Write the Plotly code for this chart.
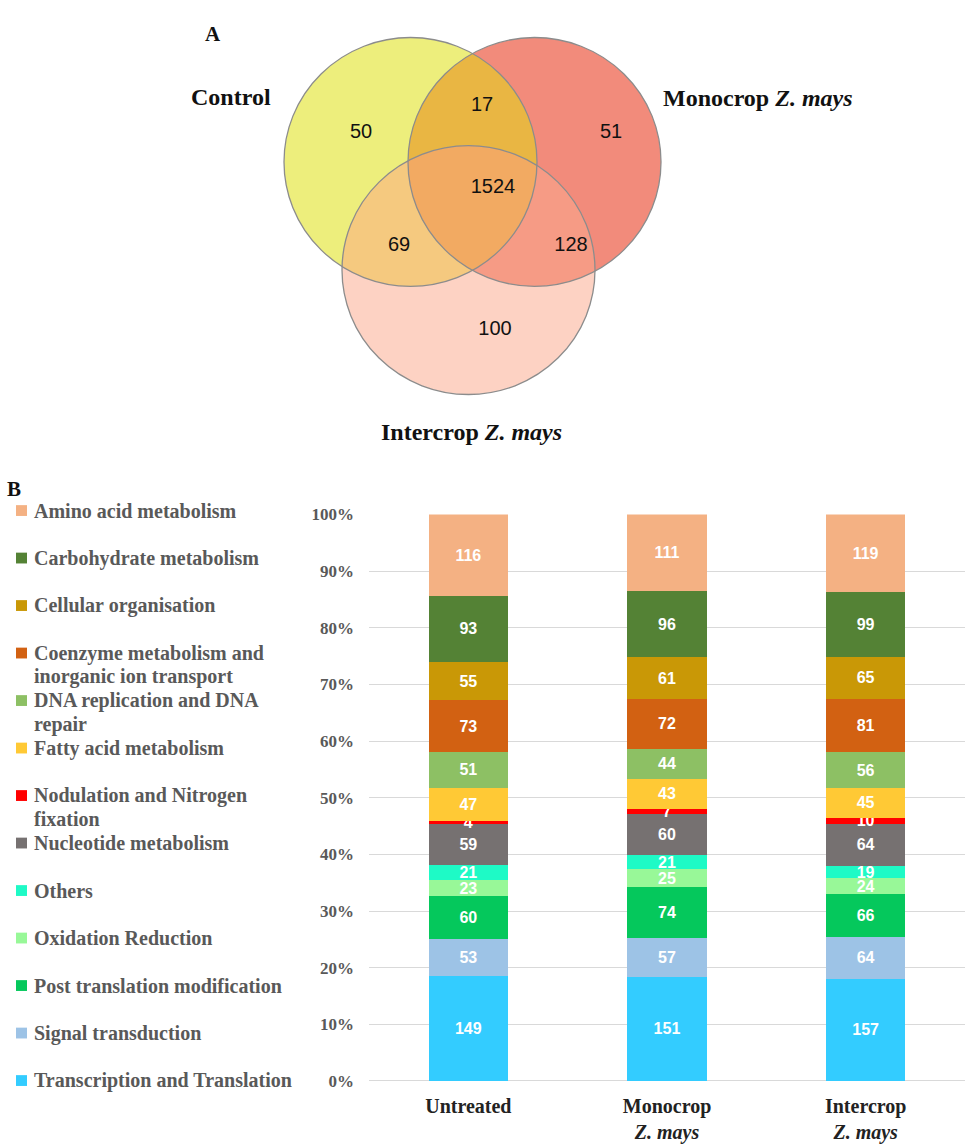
import numpy as np
import plotly.graph_objects as go

# ---------------- DATA ----------------
groups = ["Untreated", "Monocrop Z. mays", "Intercrop Z. mays"]
group_ticktext = ["Untreated", "Monocrop<br><i>Z. mays</i>", "Intercrop<br><i>Z. mays</i>"]

categories = [
    "Amino acid metabolism",
    "Carbohydrate metabolism",
    "Cellular organisation",
    "Coenzyme metabolism and inorganic ion transport",
    "DNA replication and DNA repair",
    "Fatty acid metabolism",
    "Nodulation and Nitrogen fixation",
    "Nucleotide metabolism",
    "Others",
    "Oxidation Reduction",
    "Post translation modification",
    "Signal transduction",
    "Transcription and Translation",
]
legend_lines = [
    ["Amino acid metabolism"],
    ["Carbohydrate metabolism"],
    ["Cellular organisation"],
    ["Coenzyme metabolism and", "inorganic ion transport"],
    ["DNA replication and DNA", "repair"],
    ["Fatty acid metabolism"],
    ["Nodulation and Nitrogen", "fixation"],
    ["Nucleotide metabolism"],
    ["Others"],
    ["Oxidation Reduction"],
    ["Post translation modification"],
    ["Signal transduction"],
    ["Transcription and Translation"],
]
untreated = [116, 93, 55, 73, 51, 47, 4, 59, 21, 23, 60, 53, 149]
monocrop = [111, 96, 61, 72, 44, 43, 7, 60, 21, 25, 74, 57, 151]
intercrop = [119, 99, 65, 81, 56, 45, 10, 64, 19, 24, 66, 64, 157]

colors = ["#F4B183", "#548235", "#C99806", "#D26112", "#8DC064", "#FFC935",
          "#FF0000", "#767171", "#1EFAC6", "#98F898", "#05C85C", "#9DC3E6", "#33CCFF"]
y_ticks = list(range(0, 101, 10))

venn_sets = ["Control", "Monocrop Z. mays", "Intercrop Z. mays"]
venn_regions = ["Control only", "Monocrop only", "Intercrop only",
                "Control & Monocrop", "Control & Intercrop", "Monocrop & Intercrop", "All three"]
venn_counts = [50, 51, 100, 17, 69, 128, 1524]

# ---------------- LAYOUT GEOMETRY (pixels) ----------------
W, H = 965, 1147
circles = [(410.5, 155.5, 126.5), (534.5, 155.5, 126.5), (468.5, 265.5, 126.5)]
only_colors = ["#EDEE7C", "#F28B7B", "#FDD2C3"]
pair_colors = {(0, 1): "#E9B643", (0, 2): "#F5C97F", (1, 2): "#F69B85"}
triple_color = "#F2AA62"
venn_pos_x = [361, 611, 495, 482, 399, 571, 493]
venn_pos_y = [126, 126, 326, 99, 241, 241, 182]

fig = go.Figure()

# stacked bars (bottom first)
per_group = [untreated, monocrop, intercrop]
for i in reversed(range(len(categories))):
    vals = [g[i] for g in per_group]
    fig.add_trace(go.Bar(
        x=groups, y=vals, name=categories[i], marker=dict(color=colors[i], line=dict(width=0)),
        text=[str(v) for v in vals], textposition="inside", insidetextanchor="middle",
        textangle=0, showlegend=False,
        textfont=dict(family="Liberation Sans Narrow, Arial Narrow, Liberation Sans, Arial",
                      size=16, color="white", weight="bold"),
        xaxis="x", yaxis="y", hoverinfo="skip"))

# Venn counts as text
fig.add_trace(go.Scatter(
    x=venn_pos_x, y=venn_pos_y, text=[str(c) for c in venn_counts], mode="text",
    textfont=dict(family="Liberation Sans, Arial", size=20, color="#111111"),
    xaxis="x2", yaxis="y2", showlegend=False, hoverinfo="skip", cliponaxis=False))

shapes = []


def inside(px, py, c):
    return (px - c[0]) ** 2 + (py - c[1]) ** 2 <= c[2] ** 2 + 1e-6


def boundary(c, n=720):
    t = np.linspace(0, 2 * np.pi, n, endpoint=False)
    return c[0] + c[2] * np.cos(t), c[1] + c[2] * np.sin(t)


def region_path(idx):
    xs, ys = [], []
    for k in idx:
        bx, by = boundary(circles[k])
        mask = np.ones_like(bx, dtype=bool)
        for j in idx:
            if j != k:
                mask &= inside(bx, by, circles[j])
        xs.extend(bx[mask]); ys.extend(by[mask])
    xs = np.array(xs); ys = np.array(ys)
    cx, cy = xs.mean(), ys.mean()
    order = np.argsort(np.arctan2(ys - cy, xs - cx))
    xs, ys = xs[order], ys[order]
    return "M " + " L ".join(f"{x:.2f},{y:.2f}" for x, y in zip(xs, ys)) + " Z"


for c, col in zip(circles, only_colors):
    shapes.append(dict(type="circle", xref="x2", yref="y2", x0=c[0] - c[2], x1=c[0] + c[2],
                       y0=c[1] - c[2], y1=c[1] + c[2], fillcolor=col, line=dict(width=0),
                       layer="below"))
for pair, col in pair_colors.items():
    shapes.append(dict(type="path", xref="x2", yref="y2", path=region_path(pair),
                       fillcolor=col, line=dict(width=0), layer="below"))
shapes.append(dict(type="path", xref="x2", yref="y2", path=region_path((0, 1, 2)),
                   fillcolor=triple_color, line=dict(width=0), layer="below"))
for c in circles:
    shapes.append(dict(type="circle", xref="x2", yref="y2", x0=c[0] - c[2], x1=c[0] + c[2],
                       y0=c[1] - c[2], y1=c[1] + c[2], fillcolor="rgba(0,0,0,0)",
                       line=dict(color="#8C8C8C", width=1.3), layer="below"))

annotations = []
serif = "Liberation Serif, Times New Roman, serif"
annotations.append(dict(x=213, y=25, xref="x2", yref="y2", text="<b>A</b>", showarrow=False,
                        font=dict(family=serif, size=21, color="#111")))
annotations.append(dict(x=14, y=488, xref="x2", yref="y2", text="<b>B</b>", showarrow=False,
                        font=dict(family=serif, size=21, color="#111")))
venn_label_pos = [(231, 89), (758, 90), (471, 430)]
venn_label_text = ["<b>Control</b>", "<b>Monocrop <i>Z. mays</i></b>", "<b>Intercrop <i>Z. mays</i></b>"]
for (lx, ly), t in zip(venn_label_pos, venn_label_text):
    annotations.append(dict(x=lx, y=ly, xref="x2", yref="y2", text=t, showarrow=False,
                            font=dict(family=serif, size=24, color="#111")))

# custom legend
slot0, slot_step, line_step = 510, 48.3, 24
for i, lines in enumerate(legend_lines):
    sy = slot0 + i * slot_step
    shapes.append(dict(type="rect", xref="x2", yref="y2", x0=16, x1=27, y0=sy - 5.5, y1=sy + 5.5,
                       fillcolor=colors[i], line=dict(width=0)))
    for j, ln in enumerate(lines):
        annotations.append(dict(x=32, y=sy + j * line_step, xref="x2", yref="y2",
                                text=f"<b>{ln}</b>", showarrow=False, xanchor="left",
                                yanchor="middle",
                                font=dict(family=serif, size=20, color="#595959")))

fig.update_layout(
    width=W, height=H, margin=dict(l=0, r=0, t=0, b=0),
    paper_bgcolor="white", plot_bgcolor="rgba(0,0,0,0)",
    barmode="stack", barnorm="percent", bargap=0.6,
    uniformtext=dict(minsize=15, mode="show"),
    shapes=shapes, annotations=annotations,
    xaxis=dict(domain=[369 / W, 1], range=[-0.5, 2.5], type="category",
               tickvals=groups, ticktext=group_ticktext, showgrid=False, showline=False,
               ticks="", ticklabelstandoff=11,
               tickfont=dict(family=serif, size=20, color="#222222", weight="bold"),
               anchor="y"),
    yaxis=dict(domain=[1 - 1090 / H, 1 - 514 / H], range=[0, 100], tickvals=y_ticks,
               ticktext=[f"{v}%" for v in y_ticks], showgrid=True, gridcolor="#D9D9D9",
               gridwidth=1, zeroline=True, zerolinecolor="#D9D9D9", zerolinewidth=1,
               showline=False, ticks="", ticklabelstandoff=14,
               tickfont=dict(family=serif, size=17, color="#595959", weight="bold"),
               anchor="x"),
    xaxis2=dict(domain=[0, 1], range=[0, W], visible=False, anchor="y2", fixedrange=True),
    yaxis2=dict(domain=[0, 1], range=[H, 0], visible=False, anchor="x2", fixedrange=True),
)

fig.write_html("out.html")
